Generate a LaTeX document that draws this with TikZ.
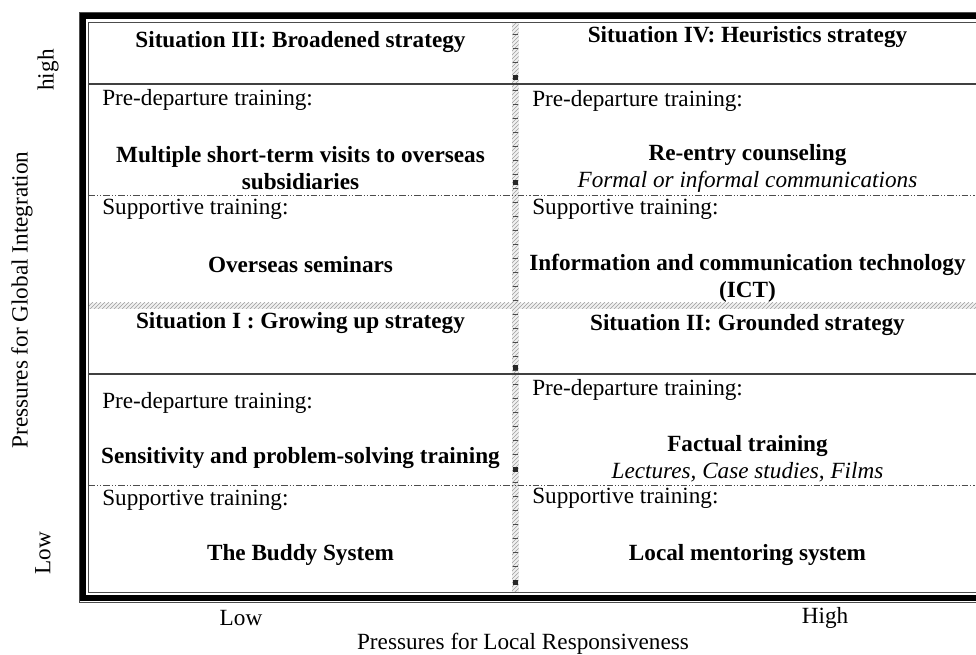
\documentclass[tikz,border=0pt]{standalone}
\usepackage{fontspec}
\setmainfont{Liberation Serif}
\usetikzlibrary{patterns}

\begin{document}
\begin{tikzpicture}[x=0.75pt, y=-0.75pt,
    every node/.style={inner sep=0pt, font=\fontsize{17.4}{20.25}\selectfont},
    headtext/.style={font=\fontsize{17.4}{20.25}\selectfont\bfseries, align=center},
    lefttext/.style={anchor=west},
    solidrule/.style={line width=0.8pt, black!75},
    dashrule/.style={line width=0.6pt, black!70, dash pattern=on 5pt off 1.5pt on 0.8pt off 1.5pt on 0.8pt off 1.5pt}]
    % Define positions of cells
    \def\Lx{102};
    \def\Rx{532};
    \def\Lc{300.5};
    \def\Rc{747.5};

    \useasboundingbox (0,0) rectangle (976,655);

    % Draw hatched dividers
    \fill[gray!12] (512,22.5) rectangle (518.5,592.5);
    \fill[pattern=north east lines, pattern color=gray!75] (512,22.5) rectangle (518.5,592.5);
    \fill[gray!12] (88.5,303) rectangle (990,309);
    \fill[pattern=north east lines, pattern color=gray!75] (88.5,303) rectangle (990,309);
    \foreach \y in {34,48,...,590}
        \draw[black!70, line width=0.6pt] (512.5,\y) -- (517.5,\y);
    \foreach \y in {78,183,368,470,583}
        \fill[black!85] (512.5,\y-2.5) rectangle (517.5,\y+2.5);

    % Draw rules inside cells
    \draw[solidrule] (88.5,84) -- (990,84);
    \draw[solidrule] (88.5,374) -- (990,374);
    \draw[dashrule] (88.5,195) -- (990,195);
    \draw[dashrule] (88.5,485) -- (990,485);

    % Draw frame
    \draw[gray!60!black, line width=0.75pt] (990,12.5) -- (79.5,12.5) -- (79.5,603) -- (990,603);
    \draw[line width=4.5pt] (990,16.5) -- (83.25,16.5) -- (83.25,598) -- (990,598);
    \draw[gray!60!black, line width=0.75pt] (990,22.5) -- (88.5,22.5) -- (88.5,592.5) -- (990,592.5);

    % Situation III
    \node[headtext] (sitIII) at (\Lc,42) {Situation III: Broadened strategy};
    \node[lefttext] (preIII) at (\Lx,100) {Pre-departure training:};
    \node[headtext] (preIIIway) at (\Lc,168.5) {Multiple short-term visits to overseas\\subsidiaries};
    \node[lefttext] (supIII) at (\Lx,209) {Supportive training:};
    \node[headtext] (supIIIway) at (\Lc,265) {Overseas seminars};

    % Situation IV
    \node[headtext] (sitIV) at (\Rc,37) {Situation IV: Heuristics strategy};
    \node[lefttext] (preIV) at (\Rx,101) {Pre-departure training:};
    \node[headtext] (preIVway) at (\Rc,168.5) {Re-entry counseling\\{\mdseries\itshape Formal or informal communications}};
    \node[lefttext] (supIV) at (\Rx,209) {Supportive training:};
    \node[headtext] (supIVway) at (\Rc,278.5) {Information and communication technology\\(ICT)};

    % Situation I
    \node[headtext] (sitI) at (\Lc,323) {Situation I : Growing up strategy};
    \node[lefttext] (preI) at (\Lx,403) {Pre-departure training:};
    \node[headtext] (preIway) at (\Lc,458) {Sensitivity and problem-solving training};
    \node[lefttext] (supI) at (\Lx,500) {Supportive training:};
    \node[headtext] (supIway) at (\Lc,555) {The Buddy System};

    % Situation II
    \node[headtext] (sitII) at (\Rc,325) {Situation II: Grounded strategy};
    \node[lefttext] (preII) at (\Rx,390) {Pre-departure training:};
    \node[headtext] (preIIway) at (\Rc,458.5) {Factual training\\{\mdseries\itshape Lectures, Case studies, Films}};
    \node[lefttext] (supII) at (\Rx,498) {Supportive training:};
    \node[headtext] (supIIway) at (\Rc,555) {Local mentoring system};

    % Draw axis labels
    \node[rotate=90] (yaxis) at (22,300) {Pressures for Global Integration};
    \node[rotate=90] (yhigh) at (48,70) {high};
    \node[rotate=90] (ylow) at (43,553) {Low};
    \node (xlow) at (241,618) {Low};
    \node (xhigh) at (825,618) {High};
    \node (xaxis) at (523,644) {Pressures for Local Responsiveness};
\end{tikzpicture}
\end{document}
